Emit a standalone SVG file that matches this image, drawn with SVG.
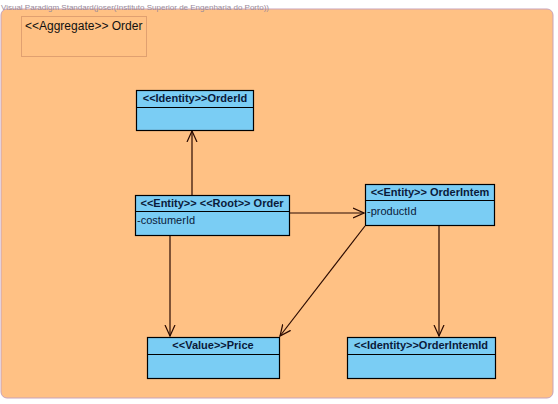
<svg xmlns="http://www.w3.org/2000/svg" width="558" height="404" viewBox="0 0 558 404">
<defs>
<style>
.bg{fill:#FFC184;stroke:#C9A3B9;stroke-width:1}
.cls{fill:#7ACDF4;stroke:#000;stroke-width:1.2}
.hdr{font-family:"Liberation Sans",Arial,sans-serif;font-size:11px;font-weight:bold;fill:#0A1A3A;text-anchor:middle}
.att{font-family:"Liberation Sans",Arial,sans-serif;font-size:11px;fill:#0A1A3A}
.edge{stroke:#2A0A00;stroke-width:1.2;fill:none}
</style>
<marker id="arr" viewBox="0 0 12 12" refX="11" refY="6" markerWidth="12" markerHeight="12" markerUnits="userSpaceOnUse" orient="auto">
<path d="M0,1 L11,6 L0,11" fill="none" stroke="#2A0A00" stroke-width="1.2"/>
</marker>
</defs>
<rect x="1" y="9" width="552" height="389" rx="6" class="bg"/>
<text x="1" y="10" font-family="Liberation Sans,Arial,sans-serif" font-size="8" fill="#9A8A9A">Visual Paradigm Standard(joser(Instituto Superior de Engenharia do Porto))</text>
<g id="aggregate">
<rect x="21.5" y="16.5" width="125" height="40" fill="none" stroke="#E0A070"/>
<text x="25" y="30" font-family="Liberation Sans,Arial,sans-serif" font-size="12" fill="#111">&lt;&lt;Aggregate&gt;&gt; Order</text>
</g>
<g id="connectors">
<line class="edge" x1="192" y1="195" x2="192" y2="131" marker-end="url(#arr)"/>
<line class="edge" x1="289" y1="213" x2="364" y2="213" marker-end="url(#arr)"/>
<line class="edge" x1="170" y1="235" x2="170" y2="336" marker-end="url(#arr)"/>
<line class="edge" x1="365" y1="226" x2="280" y2="336" marker-end="url(#arr)"/>
<line class="edge" x1="439" y1="225" x2="439" y2="336" marker-end="url(#arr)"/>
</g>
<g id="orderId">
<rect class="cls" x="136.5" y="90.5" width="117" height="40"/>
<line x1="136.5" y1="107.5" x2="253.5" y2="107.5" stroke="#000" stroke-width="1.2"/>
<text class="hdr" x="195" y="102">&lt;&lt;Identity&gt;&gt;OrderId</text>
</g>
<g id="order">
<rect class="cls" x="135.5" y="195.5" width="154" height="40"/>
<line x1="135.5" y1="211.5" x2="289.5" y2="211.5" stroke="#000" stroke-width="1.2"/>
<text class="hdr" x="212" y="207">&lt;&lt;Entity&gt;&gt; &lt;&lt;Root&gt;&gt; Order</text>
<text class="att" x="137" y="224">-costumerId</text>
</g>
<g id="orderIntem">
<rect class="cls" x="365.5" y="184.5" width="129" height="41"/>
<line x1="365.5" y1="200.5" x2="494.5" y2="200.5" stroke="#000" stroke-width="1.2"/>
<text class="hdr" x="430" y="196">&lt;&lt;Entity&gt;&gt; OrderIntem</text>
<text class="att" x="367" y="215">-productId</text>
</g>
<g id="price">
<rect class="cls" x="147.5" y="337.5" width="132" height="41"/>
<line x1="147.5" y1="354.5" x2="279.5" y2="354.5" stroke="#000" stroke-width="1.2"/>
<text class="hdr" x="213" y="349">&lt;&lt;Value&gt;&gt;Price</text>
</g>
<g id="orderIntemId">
<rect class="cls" x="347.5" y="337.5" width="148" height="41"/>
<line x1="347.5" y1="354.5" x2="495.5" y2="354.5" stroke="#000" stroke-width="1.2"/>
<text class="hdr" x="421" y="349">&lt;&lt;Identity&gt;&gt;OrderIntemId</text>
</g>
</svg>
